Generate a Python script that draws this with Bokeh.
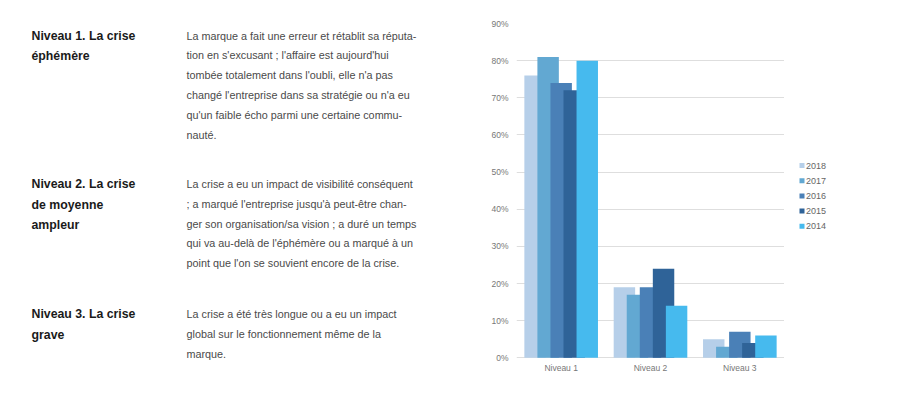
from bokeh.plotting import figure
from bokeh.layouts import row
from bokeh.models import ColumnDataSource, FactorRange, Range1d, FixedTicker, PrintfTickFormatter
from bokeh.transform import dodge
from bokeh.core.properties import value
from bokeh.embed import file_html
from bokeh.resources import INLINE

# ---------------- data ----------------
levels = ["Niveau 1", "Niveau 2", "Niveau 3"]
years = ["2018", "2017", "2016", "2015", "2014"]
v2018 = [76, 19, 5]
v2017 = [81, 17, 3]
v2016 = [74, 19, 7]
v2015 = [72, 24, 4]
v2014 = [80, 14, 6]
y_ticks = [0, 10, 20, 30, 40, 50, 60, 70, 80, 90]

headings = [
    ["Niveau 1. La crise", "éphémère"],
    ["Niveau 2. La crise", "de moyenne", "ampleur"],
    ["Niveau 3. La crise", "grave"],
]
descriptions = [
    ["La marque a fait une erreur et rétablit sa réputa-",
     "tion en s'excusant ; l'affaire est aujourd'hui",
     "tombée totalement dans l'oubli, elle n'a pas",
     "changé l'entreprise dans sa stratégie ou n'a eu",
     "qu'un faible écho parmi une certaine commu-",
     "nauté."],
    ["La crise a eu un impact de visibilité conséquent",
     "; a marqué l'entreprise jusqu'à peut-être chan-",
     "ger son organisation/sa vision ; a duré un temps",
     "qui va au-delà de l'éphémère ou a marqué à un",
     "point que l'on se souvient encore de la crise."],
    ["La crise a été très longue ou a eu un impact",
     "global sur le fonctionnement même de la",
     "marque."],
]

colors = ["#b6cfe9", "#62a8d2", "#4a80b7", "#2f6398", "#46baee"]
FONT = "Liberation Sans"

H = 384
TOP, BOT = 23, 23          # borders shared by all figures of the row
Y0, Y1 = H - BOT, TOP      # pixel rows of the frame bottom / top


def blank(width, x0):
    f = figure(width=width, height=H, output_backend="svg", toolbar_location=None,
               x_range=Range1d(x0, x0 + width), y_range=Range1d(Y0, Y1),
               min_border_left=0, min_border_right=0,
               min_border_top=TOP, min_border_bottom=BOT, outline_line_color=None)
    f.axis.visible = False
    f.grid.visible = False
    return f


# ---------------- left text panel ----------------
LW = 470
left = blank(LW, 0)

section_tops = [35, 183.5, 313.5]
hx, hy, ht = [], [], []
dx, dy, dt = [], [], []
for top, hs, ds in zip(section_tops, headings, descriptions):
    for i, s in enumerate(hs):
        hx.append(31); hy.append(top + i * 20.5); ht.append(s)
    for i, s in enumerate(ds):
        dx.append(186); dy.append(top + i * 19.8); dt.append(s)

left.text(x=hx, y=hy, text=ht, text_font=value(FONT), text_font_size="12.3px",
          text_font_style="bold", text_color="#1a1a1a", text_baseline="middle")
left.text(x=dx, y=dy, text=dt, text_font=value(FONT), text_font_size="10.8px",
          text_color="#4a4a4a", text_baseline="middle")

# ---------------- bar chart ----------------
src = ColumnDataSource(dict(level=levels, y2018=v2018, y2017=v2017, y2016=v2016,
                            y2015=v2015, y2014=v2014))

CW = 314
p = figure(width=CW, height=H, x_range=FactorRange(*levels), y_range=Range1d(-1, 90),
           output_backend="svg", toolbar_location=None,
           min_border_left=46, min_border_right=0, min_border_top=TOP, min_border_bottom=BOT,
           outline_line_color=None)

step = 0.146
bw = 0.24
for k, (yr, col) in enumerate(zip(years, colors)):
    p.vbar(x=dodge("level", (k - 2) * step, range=p.x_range), top="y" + yr, bottom=0,
           width=bw, source=src, fill_color=col, line_color=None)

p.yaxis.ticker = FixedTicker(ticks=y_ticks)
p.yaxis.formatter = PrintfTickFormatter(format="%d%%")
for ax in (p.xaxis[0], p.yaxis[0]):
    ax.axis_line_color = None
    ax.major_tick_line_color = None
    ax.minor_tick_line_color = None
    ax.major_tick_out = 0
    ax.major_tick_in = 0
    ax.minor_tick_out = 0
    ax.major_label_text_font = FONT
    ax.major_label_text_font_size = "8.5px"
    ax.major_label_text_color = "#777777"
p.yaxis.major_label_standoff = 8
p.xaxis.major_label_standoff = 1
p.xgrid.grid_line_color = None
p.ygrid.ticker = FixedTicker(ticks=y_ticks)
p.ygrid.grid_line_color = "#dedede"
p.ygrid.grid_line_width = 1

# ---------------- legend panel ----------------
RW = 898 - LW - CW
leg = blank(RW, LW + CW)
leg_y = [165 + 15.2 * i for i in range(len(years))]
leg.rect(x=[801.5] * len(years), y=leg_y, width=5, height=5,
         fill_color=colors, line_color=None)
leg.text(x=[805.5] * len(years), y=leg_y, text=years, text_font=value(FONT),
         text_font_size="9px", text_color="#666666", text_baseline="middle")

layout = row(left, p, leg)
open("out.html", "w").write(file_html(layout, INLINE))
